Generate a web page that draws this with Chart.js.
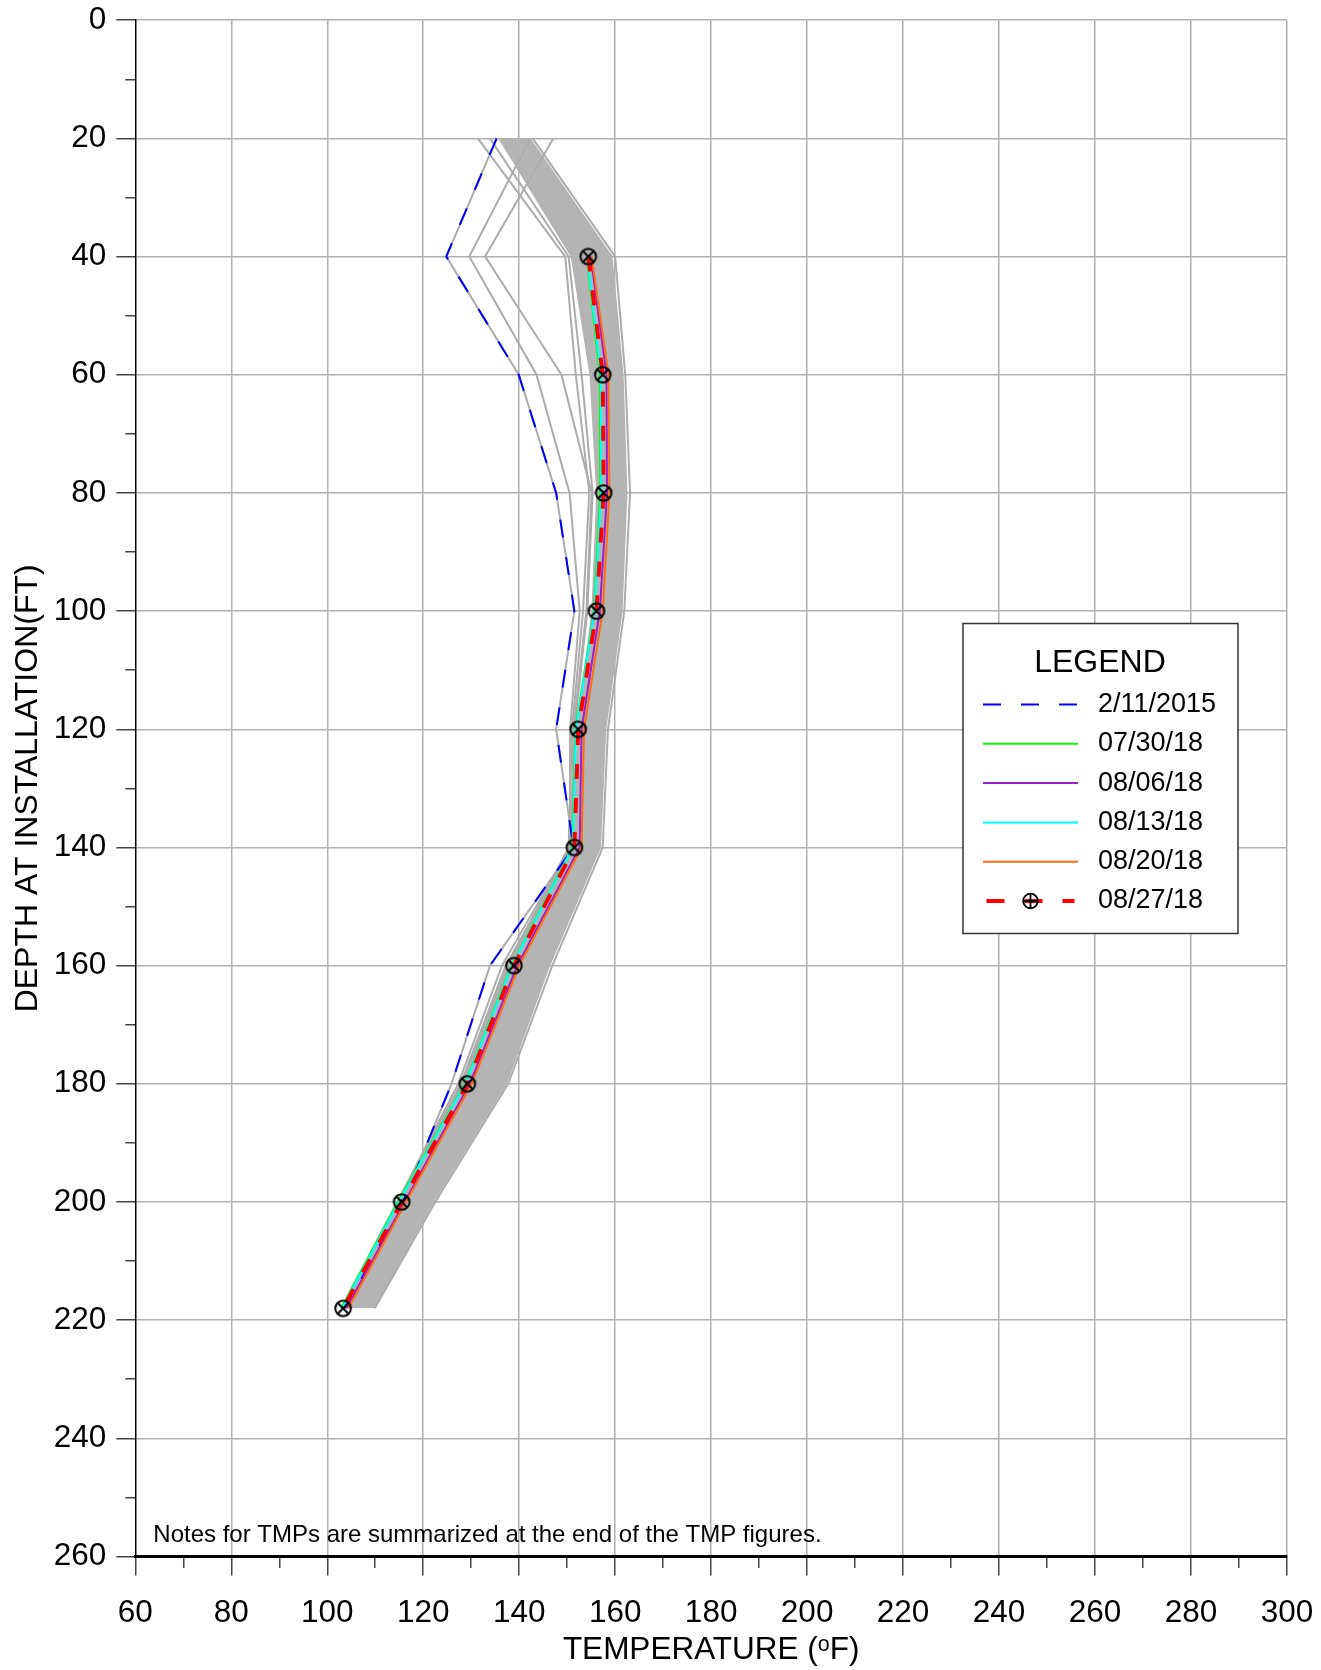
<!DOCTYPE html>
<html>
<head>
<meta charset="utf-8">
<title>TMP temperature profile</title>
<script src="https://cdn.jsdelivr.net/npm/chart.js@4.4.1/dist/chart.umd.min.js"></script>
<style>
  html, body { margin: 0; padding: 0; background: #ffffff; }
  #wrap { width: 1321px; height: 1670px; }
</style>
</head>
<body>
<div id="wrap"><canvas id="tmp" width="1321" height="1670"></canvas></div>
<script>
// ---- Depth stations (ft below installation) ----
const depths = [20, 40, 60, 80, 100, 120, 140, 160, 180, 200, 218];

// ---- Temperature readings (deg F) per depth; null = not measured ----
const t20150211 = [135.3, 124.8, 139.9, 147.7, 151.5, 147.7, 151.3, 133.9, 125.9, 115.8, 103.8];
const t180730   = [null, 154.1, 156.8, 156.9, 155.6, 151.7, 151.1, 138.4, 128.7, 114.7, 102.9];
const t180806   = [null, 154.9, 158.2, 158.3, 156.8, 153.0, 152.6, 139.6, 129.7, 116.1, 104.0];
const t180813   = [null, 154.2, 157.0, 157.1, 155.7, 151.8, 151.2, 138.5, 128.8, 114.9, 103.1];
const t180820   = [null, 155.1, 158.6, 158.8, 157.4, 153.5, 153.0, 140.0, 130.1, 116.4, 104.4];
const t180827   = [null, 154.4, 157.4, 157.6, 156.1, 152.3, 151.5, 138.9, 129.2, 115.5, 103.3];

// ---- Earlier surveys shown in grey ----
const histA = [142.3, 129.6, 143.6, 150.5, 152.6, 150.6, 150.6, 136.4, 127.3, 114.6, 103.2];
const histB = [147.1, 132.9, 148.8, 155.1, 154.0, 151.3, 150.9, 137.2, 127.8, 114.9, 103.4];
const histC = [131.4, 149.6, 151.8, 154.6, 153.3, 151.0, 150.3, 137.6, 128.0, 114.6, 103.0];
const histD = [133.9, 150.3, 153.0, 155.3, 154.2, 151.5, 150.7, 138.0, 128.4, 114.9, 103.3];
const histE = [142.8, 160.0, 162.1, 163.1, 161.9, 158.5, 157.4, 146.9, 137.7, 122.5, 109.9];
// cool / warm limits of the bulk of the earlier surveys
const histLow  = [135.8, 150.9, 154.8, 156.2, 155.2, 152.2, 151.2, 138.6, 128.8, 115.0, 103.4];
const histHigh = [142.2, 159.3, 161.6, 162.4, 161.4, 158.0, 156.9, 146.3, 137.3, 122.1, 109.6];

// ---- Labels ----
const seriesLabels = ['2/11/2015', '07/30/18', '08/06/18', '08/13/18', '08/20/18', '08/27/18'];
const tempRange = [60, 300];
const depthRange = [0, 260];
const labelStep = 20;
const minorStep = 10;
const noteText = 'Notes for TMPs are summarized at the end of the TMP figures.';

const FONT = '"Liberation Sans", Arial, Helvetica, sans-serif';
const GRID = '#b0b0b0';
const HIST = '#acacac';
const BAND = '#b4b4b4';

const toPoints = vals => depths
  .map((d, i) => ({ x: vals[i], y: d }))
  .filter(p => p.x !== null);

// circle with a diagonal cross, used as the point marker
function ringCross(r, w) {
  const c = document.createElement('canvas');
  const s = Math.ceil(2 * r + w + 2);
  c.width = c.height = s;
  const g = c.getContext('2d');
  const m = s / 2;
  g.strokeStyle = '#000';
  g.lineWidth = w;
  g.beginPath();
  g.arc(m, m, r, 0, Math.PI * 2);
  g.stroke();
  const k = r * Math.SQRT1_2;
  g.beginPath();
  g.moveTo(m - k, m - k); g.lineTo(m + k, m + k);
  g.moveTo(m + k, m - k); g.lineTo(m - k, m + k);
  g.stroke();
  return c;
}
const marker = ringCross(7.8, 2);

const trace = (label, vals, color, width, dash, extra) => Object.assign({
  label,
  data: toPoints(vals),
  borderColor: color,
  backgroundColor: color,
  borderWidth: width,
  borderDash: dash,
  pointRadius: 0,
  pointHoverRadius: 0,
  tension: 0,
  fill: false
}, extra || {});

const datasets = [
  trace(seriesLabels[5], t180827, '#ff0000', 4, [15, 19], {
    pointRadius: 8, pointStyle: marker, legendMarker: true
  }),
  trace(seriesLabels[4], t180820, '#ff6a13', 2, []),
  trace(seriesLabels[3], t180813, '#00ffff', 2, []),
  trace(seriesLabels[2], t180806, '#9a1fd0', 2, []),
  trace(seriesLabels[1], t180730, '#00ff00', 2, []),
  trace(seriesLabels[0], t20150211, '#0000ff', 2, [18, 20]),
  trace('', t20150211, HIST, 2, []),
  trace('', histA, HIST, 2, []),
  trace('', histB, HIST, 2, []),
  trace('', histC, HIST, 2, []),
  trace('', histD, HIST, 2, []),
  trace('', histE, HIST, 2, []),
  trace('', histLow, BAND, 1.5, [], { fill: '+1', backgroundColor: BAND }),
  trace('', histHigh, BAND, 1.5, [])
];

const isLabelled = v => v % labelStep === 0;

function axisGrid(skipValue) {
  return {
    color: c => (isLabelled(c.tick.value) && c.tick.value !== skipValue) ? GRID : 'rgba(0,0,0,0)',
    lineWidth: 1.5,
    tickLength: 19,
    tickWidth: 1.5,
    tickColor: '#444444'
  };
}

// legend box and note text
const overlay = {
  id: 'overlay',
  afterDraw(chart) {
    const { ctx, chartArea } = chart;
    ctx.save();

    // note at the foot of the plot
    ctx.font = '24px ' + FONT;
    ctx.fillStyle = '#000';
    ctx.textAlign = 'left';
    ctx.textBaseline = 'middle';
    ctx.fillText(noteText, chartArea.left + 18, chartArea.bottom - 21);

    // legend frame
    const bx = chartArea.right - 324, by = 623.5, bw = 275, bh = 310;
    ctx.fillStyle = '#fff';
    ctx.fillRect(bx, by, bw, bh);
    ctx.strokeStyle = '#333';
    ctx.lineWidth = 1.5;
    ctx.strokeRect(bx, by, bw, bh);

    ctx.fillStyle = '#000';
    ctx.textAlign = 'center';
    ctx.font = '32px ' + FONT;
    ctx.fillText('LEGEND', bx + 137, by + 40);

    const items = datasets.filter(d => d.label !== '').slice().reverse();
    ctx.font = '27px ' + FONT;
    ctx.textAlign = 'left';
    items.forEach((d, i) => {
      const y = by + 81 + i * 39.3;
      const x0 = bx + 20, x1 = bx + 115;
      ctx.save();
      ctx.strokeStyle = d.borderColor;
      ctx.lineWidth = d.legendMarker ? 4 : Math.min(d.borderWidth, 2.4);
      ctx.setLineDash(d.borderDash.length ? [18, 20] : []);
      ctx.beginPath();
      if (d.legendMarker) {
        ctx.moveTo(x0 + 3.5, y); ctx.lineTo(x1 - 3.5, y);
      } else {
        ctx.moveTo(x0, y); ctx.lineTo(x1, y);
      }
      ctx.stroke();
      ctx.restore();
      if (d.legendMarker) {
        const cx = (x0 + x1) / 2;
        ctx.save();
        ctx.strokeStyle = '#000';
        ctx.lineWidth = 1.8;
        ctx.beginPath();
        ctx.arc(cx, y, 7.3, 0, Math.PI * 2);
        ctx.moveTo(cx - 7.3, y); ctx.lineTo(cx + 7.3, y);
        ctx.moveTo(cx, y - 7.3); ctx.lineTo(cx, y + 7.3);
        ctx.stroke();
        ctx.restore();
      }
      ctx.fillStyle = '#000';
      ctx.fillText(d.label, bx + 135, y);
    });
    ctx.restore();
  }
};

Chart.defaults.font.family = FONT;

new Chart(document.getElementById('tmp'), {
  type: 'line',
  data: { datasets },
  options: {
    indexAxis: 'y',
    responsive: false,
    devicePixelRatio: 1,
    animation: false,
    events: [],
    layout: { padding: { top: 20.2, right: 34, bottom: 0, left: 0 } },
    plugins: {
      legend: { display: false },
      tooltip: { enabled: false },
      filler: { propagate: false }
    },
    scales: {
      x: {
        type: 'linear',
        position: 'bottom',
        min: tempRange[0],
        max: tempRange[1],
        ticks: {
          stepSize: minorStep,
          autoSkip: false,
          maxRotation: 0,
          color: '#000',
          padding: 19,
          font: { size: 31.5, family: FONT },
          callback: v => isLabelled(v) ? String(v) : ''
        },
        grid: Object.assign(axisGrid(tempRange[0]), {
          tickBorderDash: c => isLabelled(c.tick.value) ? [] : [10, 60]
        }),
        border: { color: '#000', width: 3 },
        title: {
          display: true,
          text: 'TEMPERATURE (\u1D52F)',
          color: '#000',
          font: { size: 31.5, family: FONT },
          padding: { top: 0, bottom: 1 }
        },
        afterFit: s => {
          s.height = 113.5;
          s.paddingLeft = 0;
          s.paddingRight = 0;
        }
      },
      y: {
        type: 'linear',
        position: 'left',
        reverse: true,
        min: depthRange[0],
        max: depthRange[1],
        ticks: {
          stepSize: minorStep,
          autoSkip: false,
          color: '#000',
          padding: 10,
          font: { size: 31.5, family: FONT },
          callback: v => isLabelled(v) ? String(v) : ''
        },
        grid: Object.assign(axisGrid(depthRange[1]), {
          tickBorderDash: c => isLabelled(c.tick.value) ? [] : [0, 9, 10, 60]
        }),
        border: { color: '#000', width: 1.5 },
        title: {
          display: true,
          text: 'DEPTH AT INSTALLATION(FT)',
          color: '#000',
          font: { size: 32, family: FONT },
          padding: { top: 9, bottom: 0 }
        },
        afterFit: s => {
          s.width = 135.3;
          s.paddingTop = 0;
          s.paddingBottom = 0;
        }
      }
    }
  },
  plugins: [overlay]
});
</script>
</body>
</html>
